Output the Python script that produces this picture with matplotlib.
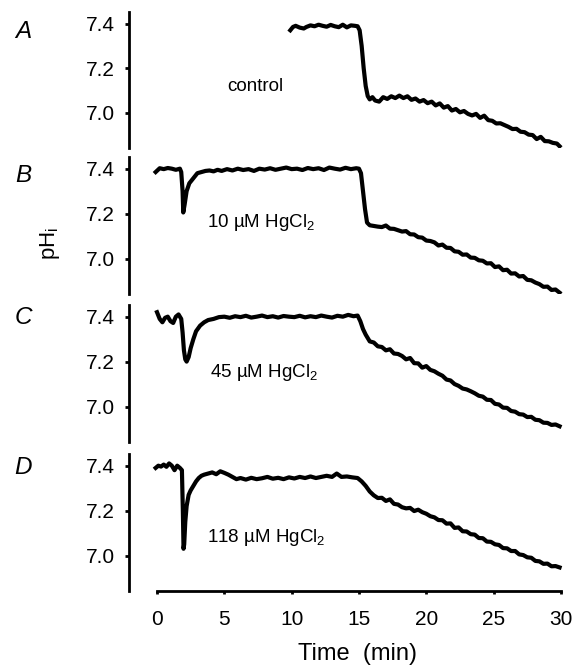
import matplotlib
matplotlib.use('Agg')
import matplotlib.pyplot as plt

plt.rcParams['font.family'] = ['Liberation Sans', 'DejaVu Sans']
plt.rcParams['mathtext.default'] = 'regular'

# panel A (control), recording starts at 10 min
tA = [9.9, 10.1, 10.3, 10.6, 10.9, 11.1, 11.4, 11.7, 12.0, 12.3,
      12.6, 12.9, 13.2, 13.5, 13.8, 14.1, 14.4, 14.7, 14.9, 15.05,
      15.2, 15.35, 15.5, 15.65, 15.8, 16.0, 16.2, 16.5, 16.8, 17.1,
      17.4, 17.7, 18.0, 18.3, 18.6, 18.9, 19.2, 19.5, 19.8, 20.1,
      20.4, 20.7, 21.0, 21.3, 21.6, 21.9, 22.2, 22.5, 22.8, 23.1,
      23.4, 23.7, 24.0, 24.3, 24.6, 24.9, 25.2, 25.5, 25.8, 26.1,
      26.4, 26.7, 27.0, 27.3, 27.6, 27.9, 28.2, 28.5, 28.8, 29.1,
      29.4, 29.7, 29.9]
pHA = [7.37, 7.385, 7.39, 7.382, 7.378, 7.385, 7.392, 7.388, 7.395, 7.39,
       7.386, 7.394, 7.388, 7.384, 7.395, 7.383, 7.392, 7.39, 7.388, 7.37,
       7.30, 7.20, 7.12, 7.075, 7.06, 7.07, 7.055, 7.05, 7.07, 7.062,
       7.074, 7.066, 7.077, 7.066, 7.074, 7.058, 7.064, 7.05, 7.057, 7.043,
       7.05, 7.033, 7.042, 7.023, 7.03, 7.01, 7.017, 7.002, 7.008, 6.995,
       6.988, 6.995, 6.977, 6.987, 6.967, 6.964, 6.952, 6.953, 6.945, 6.937,
       6.927, 6.928, 6.915, 6.913, 6.902, 6.9, 6.882, 6.892, 6.873, 6.872,
       6.865, 6.862, 6.85]

# panel B, 10 uM HgCl2
tB = [-0.1, 0.2, 0.5, 0.8, 1.1, 1.4, 1.7, 1.8, 1.9, 1.95,
      2.05, 2.2, 2.4, 2.6, 2.8, 3.0, 3.3, 3.6, 3.9, 4.2,
      4.5, 4.8, 5.2, 5.6, 6.0, 6.4, 6.8, 7.2, 7.6, 8.0,
      8.4, 8.8, 9.2, 9.6, 10.0, 10.4, 10.8, 11.2, 11.6, 12.0,
      12.4, 12.8, 13.2, 13.6, 14.0, 14.4, 14.8, 15.0, 15.15, 15.3,
      15.45, 15.6, 15.8, 16.1, 16.4, 16.7, 17.0, 17.3, 17.6, 17.9,
      18.2, 18.5, 18.8, 19.1, 19.4, 19.7, 20.0, 20.3, 20.6, 20.9,
      21.2, 21.5, 21.8, 22.1, 22.4, 22.7, 23.0, 23.3, 23.6, 23.9,
      24.2, 24.5, 24.8, 25.1, 25.4, 25.7, 26.0, 26.3, 26.6, 26.9,
      27.2, 27.5, 27.8, 28.1, 28.4, 28.7, 29.0, 29.3, 29.6, 29.9]
pHB = [7.385, 7.402, 7.398, 7.403, 7.40, 7.395, 7.40, 7.385, 7.30, 7.205,
       7.24, 7.30, 7.335, 7.35, 7.365, 7.38, 7.385, 7.39, 7.392, 7.388,
       7.395, 7.39, 7.398, 7.392, 7.40, 7.394, 7.398, 7.39, 7.40, 7.396,
       7.402, 7.395, 7.40, 7.405, 7.398, 7.40, 7.394, 7.403, 7.398, 7.402,
       7.394, 7.405, 7.40, 7.396, 7.404, 7.398, 7.402, 7.40, 7.38, 7.30,
       7.22, 7.16, 7.148, 7.145, 7.142, 7.14, 7.147, 7.133, 7.132, 7.126,
       7.12, 7.122, 7.108, 7.107, 7.095, 7.093, 7.08, 7.078, 7.072, 7.058,
       7.062, 7.048, 7.047, 7.032, 7.03, 7.017, 7.018, 7.004, 7.003, 6.992,
       6.99, 6.978, 6.979, 6.962, 6.965, 6.948, 6.95, 6.933, 6.934, 6.92,
       6.922, 6.905, 6.903, 6.893, 6.886, 6.874, 6.875, 6.86, 6.862, 6.848]

# panel C, 45 uM HgCl2
tC = [0.0, 0.2, 0.4, 0.6, 0.8, 1.0, 1.2, 1.4, 1.6, 1.8,
      1.9, 2.0, 2.1, 2.2, 2.35, 2.5, 2.7, 2.9, 3.2, 3.5,
      3.8, 4.2, 4.6, 5.0, 5.4, 5.8, 6.2, 6.6, 7.0, 7.4,
      7.8, 8.2, 8.6, 9.0, 9.4, 9.8, 10.2, 10.6, 11.0, 11.4,
      11.8, 12.2, 12.6, 13.0, 13.4, 13.8, 14.2, 14.6, 14.9, 15.1,
      15.3, 15.5, 15.8, 16.1, 16.4, 16.7, 17.0, 17.3, 17.6, 17.9,
      18.2, 18.5, 18.8, 19.1, 19.4, 19.7, 20.0, 20.3, 20.6, 20.9,
      21.2, 21.5, 21.8, 22.1, 22.4, 22.7, 23.0, 23.3, 23.6, 23.9,
      24.2, 24.5, 24.8, 25.1, 25.4, 25.7, 26.0, 26.3, 26.6, 26.9,
      27.2, 27.5, 27.8, 28.1, 28.4, 28.7, 29.0, 29.3, 29.6, 29.9]
pHC = [7.42, 7.39, 7.375, 7.395, 7.40, 7.38, 7.372, 7.40, 7.41, 7.39,
       7.33, 7.25, 7.21, 7.20, 7.22, 7.26, 7.30, 7.335, 7.36, 7.375,
       7.385, 7.39, 7.398, 7.40, 7.395, 7.402, 7.398, 7.404, 7.396, 7.40,
       7.405, 7.398, 7.402, 7.396, 7.403, 7.40, 7.398, 7.404, 7.397, 7.402,
       7.398, 7.405, 7.40, 7.396, 7.404, 7.40, 7.408, 7.402, 7.405, 7.38,
       7.345, 7.32, 7.29, 7.285, 7.268, 7.265, 7.25, 7.255, 7.236, 7.234,
       7.225, 7.21, 7.216, 7.193, 7.192, 7.173, 7.18, 7.163, 7.157, 7.146,
       7.137, 7.12, 7.116, 7.1, 7.092, 7.08, 7.076, 7.068, 7.059, 7.048,
       7.044, 7.03, 7.029, 7.012, 7.009, 6.995, 6.994, 6.98, 6.977, 6.966,
       6.964, 6.953, 6.954, 6.941, 6.939, 6.928, 6.927, 6.918, 6.92, 6.912]

# panel D, 118 uM HgCl2
tD = [-0.1, 0.1, 0.3, 0.5, 0.7, 0.9, 1.1, 1.3, 1.5, 1.7,
      1.85, 1.92, 1.97, 2.02, 2.1, 2.2, 2.35, 2.5, 2.7, 2.9,
      3.1, 3.3, 3.5, 3.8, 4.1, 4.4, 4.7, 5.0, 5.3, 5.6,
      5.9, 6.2, 6.6, 7.0, 7.4, 7.8, 8.2, 8.6, 9.0, 9.4,
      9.8, 10.2, 10.6, 11.0, 11.4, 11.8, 12.2, 12.6, 13.0, 13.35,
      13.7, 14.1, 14.5, 14.9, 15.2, 15.5, 15.8, 16.1, 16.4, 16.7,
      17.0, 17.3, 17.6, 17.9, 18.2, 18.5, 18.8, 19.1, 19.4, 19.7,
      20.0, 20.3, 20.6, 20.9, 21.2, 21.5, 21.8, 22.1, 22.4, 22.7,
      23.0, 23.3, 23.6, 23.9, 24.2, 24.5, 24.8, 25.1, 25.4, 25.7,
      26.0, 26.3, 26.6, 26.9, 27.2, 27.5, 27.8, 28.1, 28.4, 28.7,
      29.0, 29.3, 29.6, 29.9]
pHD = [7.39, 7.40, 7.396, 7.405, 7.395, 7.41, 7.40, 7.38, 7.40, 7.39,
       7.38, 7.20, 7.03, 7.05, 7.15, 7.22, 7.27, 7.29, 7.31, 7.33,
       7.345, 7.355, 7.36, 7.365, 7.37, 7.362, 7.375, 7.368, 7.36, 7.35,
       7.34, 7.345, 7.338, 7.346, 7.34, 7.344, 7.35, 7.342, 7.346, 7.34,
       7.348, 7.343, 7.35, 7.345, 7.352, 7.345, 7.35, 7.355, 7.35, 7.365,
       7.35, 7.352, 7.348, 7.345, 7.33, 7.31, 7.285, 7.268, 7.256, 7.257,
       7.243, 7.25, 7.23, 7.227, 7.215, 7.21, 7.212, 7.198, 7.204, 7.193,
       7.186, 7.175, 7.17, 7.158, 7.157, 7.142, 7.143, 7.123, 7.125, 7.108,
       7.107, 7.095, 7.093, 7.078, 7.077, 7.062, 7.061, 7.05, 7.047, 7.033,
       7.032, 7.02, 7.02, 7.005, 7.002, 6.992, 6.99, 6.976, 6.974, 6.963,
       6.964, 6.952, 6.953, 6.947]

traces = [(tA, pHA), (tB, pHB), (tC, pHC), (tD, pHD)]
letters = ['A', 'B', 'C', 'D']
notes = ['control', '10 µM HgCl$_2$', '45 µM HgCl$_2$', '118 µM HgCl$_2$']
note_pos = [(5.2, 7.099), (3.75, 7.142), (3.95, 7.131), (3.75, 7.060)]
yticks = [7.0, 7.2, 7.4]
xticks = [0, 5, 10, 15, 20, 25, 30]

W, H = 574, 669
fig = plt.figure(figsize=(W / 100, H / 100), dpi=100)

# panel extents in pixels (top, bottom)
rows = [(12, 148), (157, 294), (305, 442), (454, 591)]
letter_y = [31, 176, 317, 467]
x0, x1 = 129, 569

for i, ((t, ph), (top, bot)) in enumerate(zip(traces, rows)):
    ax = fig.add_axes([x0 / W, 1 - bot / H, (x1 - x0) / W, (bot - top) / H])
    ax.plot(t, ph, color='black', lw=3, solid_joinstyle='round')
    ax.set_xlim(-2.08, 30.6)
    ax.set_ylim(6.842, 7.452)
    ax.set_yticks(yticks)
    ax.set_yticklabels(['7.0', '7.2', '7.4'])
    for s in ['top', 'right']:
        ax.spines[s].set_visible(False)
    ax.spines['left'].set_linewidth(2)
    ax.tick_params(axis='y', direction='out', length=3, width=2, pad=7,
                   labelsize=15)
    if i < 3:
        ax.spines['bottom'].set_visible(False)
        ax.set_xticks([])
    else:
        ax.spines['bottom'].set_bounds(0, 30)
        ax.spines['bottom'].set_linewidth(2)
        ax.set_xticks(xticks)
        ax.tick_params(axis='x', direction='out', length=2.5, width=2, pad=11,
                       labelsize=15)
    ax.text(note_pos[i][0], note_pos[i][1], notes[i], fontsize=13.5,
            ha='left', va='baseline')
    fig.text(23 / W, 1 - letter_y[i] / H, letters[i], fontsize=17.5,
             style='italic', ha='center', va='center')

fig.text(50 / W, 1 - 243 / H, 'pH$_i$', fontsize=16, rotation=90,
         ha='center', va='center')
fig.text(358 / W, 1 - 654 / H, 'Time  (min)', fontsize=17,
         ha='center', va='center')

fig.savefig('out.png', dpi=100)
